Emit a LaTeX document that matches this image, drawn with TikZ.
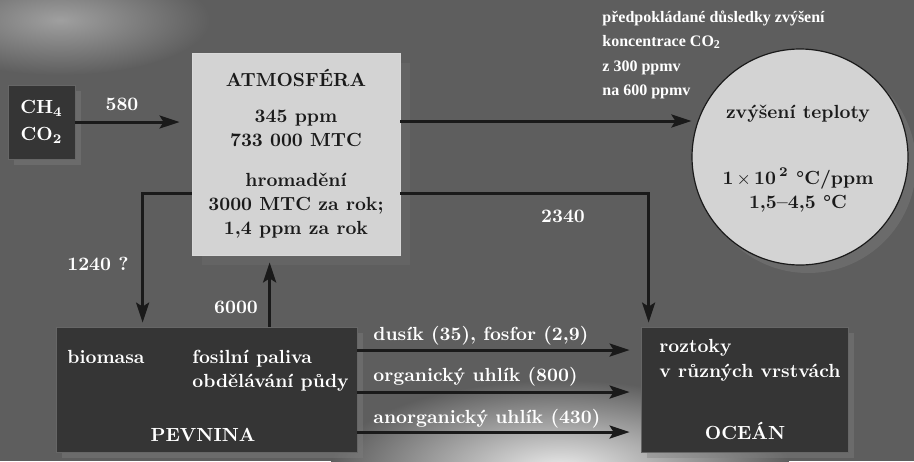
\documentclass[tikz,border=0pt]{standalone}
\usepackage{fontspec}
\newfontfamily\notefont{Liberation Serif}
\usetikzlibrary{arrows.meta,shadows}

\definecolor{skygray}{HTML}{5E5E5E}
\definecolor{boxdark}{HTML}{353535}
\definecolor{boxlight}{HTML}{D3D3D3}
\definecolor{inkdark}{HTML}{1A1A1A}
\newcommand\boxfont{\fontsize{9.5}{12}\selectfont\bfseries}

\tikzset{
  flow/.style={draw=inkdark, line width=1.5pt, -{Stealth[length=10pt,width=6.5pt,inset=2pt]}},
  darkbox/.style={draw=gray!80!black, fill=boxdark, text=white, inner sep=0pt, font=\boxfont,
    drop shadow={shadow xshift=3pt, shadow yshift=-3pt, opacity=0.4}},
  lightbox/.style={draw=gray!30, fill=boxlight, text=inkdark, inner sep=0pt, font=\boxfont,
    drop shadow={shadow xshift=5pt, shadow yshift=-5pt, opacity=0.2}},
  lab/.style={text=white, font=\boxfont, inner sep=0pt},
  inktext/.style={text=inkdark, font=\boxfont, inner sep=0pt, anchor=base},
  note/.style={text=white, font=\notefont\fontsize{8}{12}\selectfont\bfseries, inner sep=0pt, anchor=base west}
}

\begin{document}
\begin{tikzpicture}[x=0.5pt,y=-0.5pt]
\useasboundingbox (0,0) rectangle (914,461);
\clip (0,0) rectangle (914,461);
% sky
\fill[skygray] (0,0) rectangle (914,461);
\shade[inner color=gray!75!white, outer color=skygray] (60,20) ellipse (150 and 55);
\shade[inner color=white!85!gray, outer color=skygray] (560,470) ellipse (230 and 90);

% boxes
\node[darkbox, minimum width=33.5pt, minimum height=37pt, align=center] (ch) at (41.5,122)
  {CH\textsubscript{4}\\[1.5pt]CO\textsubscript{2}};
\node[lightbox, minimum width=104pt, minimum height=101pt, align=center] (atm) at (296,154)
  {ATMOSFÉRA\\[6pt]345 ppm\\733 000 MTC\\[8pt]hromadění\\3000 MTC za rok;\\1,4 ppm za rok};
\node[circle, minimum size=108pt, fill=boxlight, draw=inkdark, line width=0.6pt,
  drop shadow={shadow xshift=4pt, shadow yshift=-4pt, opacity=0.4}] (heat) at (800,157) {};
\node[darkbox, minimum width=150.5pt, minimum height=62.5pt] (pev) at (206.5,389.5) {};
\node[darkbox, minimum width=103.5pt, minimum height=62.5pt] (oce) at (744.5,389.5) {};

% texts in boxes
\node[lab, anchor=base west] (biomasa) at (67,363) {biomasa};
\node[lab, anchor=base west] (fosil) at (192,363) {fosilní paliva};
\node[lab, anchor=base west] (puda) at (192,387) {obdělávání půdy};
\node[lab, anchor=base] (pevnina) at (203,441) {PEVNINA};
\node[lab, anchor=base west] (roztoky) at (659,352) {roztoky};
\node[lab, anchor=base west] (vrstvy) at (659,377) {v různých vrstvách};
\node[lab, anchor=base] (ocean) at (745,439) {OCEÁN};
\node[inktext] (heattitle) at (798,118) {zvýšení teploty};
\node[inktext] (heatrate) at (798,184) {1\,$\times$\,10\,\textsuperscript{2} °C/ppm};
\node[inktext] (heatrange) at (798,208) {1,5–4,5 °C};

% note
\foreach \txt [count=\i] in {předpokládané důsledky zvýšení, koncentrace CO\textsubscript{2}, z 300 ppmv, na 600 ppmv}
  \node[note] (note\i) at (602,{22+24.5*(\i-1)}) {\txt};

% flows
\draw[flow, shorten >=6pt] (ch.east) -- (ch.east -| atm.west);
\draw[flow] ([yshift=16.5pt]atm.east) -- ([yshift=16.5pt]atm.east -| heat.west);
\draw[flow, shorten >=2pt] ([yshift=-19.5pt]atm.west) -| ([xshift=43.5pt]pev.north west);
\draw[flow, shorten >=2pt] ([yshift=-19.5pt]atm.east) -| ([xshift=4pt]oce.north west);
\draw[flow, shorten >=3.5pt] ([xshift=107pt]pev.north west) -- ([xshift=107pt]pev.north west |- atm.south);
\draw[flow, shorten >=5.5pt] ([yshift=19.75pt]pev.east) -- ([yshift=19.75pt]pev.east -| oce.west);
\draw[flow, shorten >=5.5pt] ([yshift=-1.25pt]pev.east) -- ([yshift=-1.25pt]pev.east -| oce.west);
\draw[flow, shorten >=5.5pt] ([yshift=-21.25pt]pev.east) -- ([yshift=-21.25pt]pev.east -| oce.west);

% flow labels
\node[lab, anchor=base] (l580) at (122,110) {580};
\node[lab, anchor=base] (l1240) at (98,270) {1240 ?};
\node[lab, anchor=base] (l6000) at (236,313) {6000};
\node[lab, anchor=base] (l2340) at (563,222) {2340};
\node[lab, anchor=base west] (lnp) at (373,340) {dusík (35), fosfor (2,9)};
\node[lab, anchor=base west] (lorg) at (373,381) {organický uhlík (800)};
\node[lab, anchor=base west] (lanorg) at (373,423) {anorganický uhlík (430)};
\end{tikzpicture}
\end{document}
